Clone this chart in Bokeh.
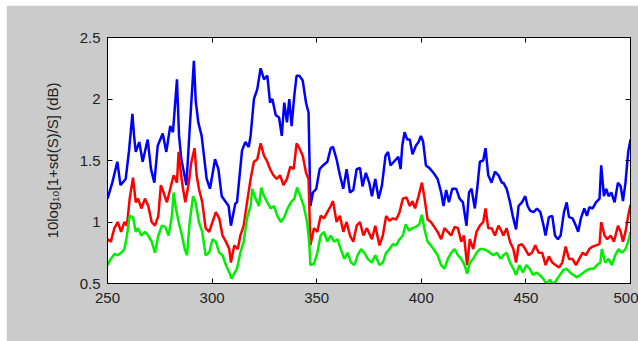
from bokeh.plotting import figure
from bokeh.models import LinearAxis, FixedTicker, NumeralTickFormatter, Range1d
from bokeh.embed import file_html
from bokeh.resources import INLINE

# ---- data ----
blue_x = [250.0, 252.3, 254.7, 256.2, 258.7, 260.3, 261.9, 262.7, 263.5, 265.2, 266.8, 269.2, 270.8, 272.4,
          274.0, 276.4, 278.1, 280.0, 281.3, 283.2, 284.2, 285.3, 287.7, 289.3, 291.3, 292.2, 293.4, 295.0,
          297.4, 299.0, 301.4, 303.0, 304.6, 307.9, 309.0, 311.1, 311.9, 314.3, 315.9, 317.5, 318.4, 320.0,
          321.6, 323.2, 324.8, 326.4, 327.7, 328.8, 330.4, 332.0, 333.3, 334.5, 335.8, 336.9, 338.0, 339.3,
          340.4, 341.7, 343.3, 344.9, 346.1, 347.0, 348.2, 349.8, 351.4, 353.0, 355.1, 356.7, 357.8, 359.5,
          361.1, 362.7, 364.3, 365.9, 367.5, 369.1, 370.7, 371.9, 373.5, 375.1, 376.4, 378.0, 379.6, 381.2,
          382.9, 384.1, 385.3, 386.9, 389.0, 390.1, 390.9, 392.0, 393.3, 394.5, 395.8, 397.4, 398.7, 399.8,
          400.9, 402.2, 403.8, 405.8, 407.8, 409.5, 410.6, 411.9, 413.2, 414.8, 416.7, 418.3, 419.9, 421.6,
          422.8, 424.0, 425.6, 426.7, 428.0, 429.6, 430.7, 432.0, 433.6, 435.2, 436.9, 438.5, 439.2, 440.8,
          442.4, 443.7, 445.3, 446.5, 448.1, 449.7, 450.8, 452.1, 453.7, 455.3, 456.9, 458.2, 459.4, 461.0,
          462.6, 463.9, 465.3, 466.6, 468.2, 469.5, 470.6, 472.3, 473.9, 475.0, 476.3, 477.9, 479.2, 480.3,
          481.9, 483.5, 485.2, 486.0, 487.3, 488.4, 489.5, 490.8, 492.4, 494.0, 495.3, 496.4, 497.6, 498.9,
          500.0]
blue_y = [1.19, 1.32, 1.49, 1.30, 1.35, 1.58, 1.88, 1.70, 1.57, 1.65, 1.49, 1.67, 1.43, 1.32,
          1.62, 1.72, 1.57, 1.78, 1.73, 2.16, 1.70, 1.51, 1.30, 1.76, 2.31, 1.98, 1.81, 1.70,
          1.35, 1.27, 1.51, 1.43, 1.21, 1.13, 0.97, 1.15, 1.16, 1.58, 1.65, 1.61, 1.70, 2.00,
          2.08, 2.25, 2.16, 2.19, 1.97, 2.00, 1.87, 1.85, 1.70, 1.97, 1.81, 2.00, 1.78, 2.03,
          2.19, 2.19, 2.15, 1.97, 1.89, 1.13, 1.24, 1.27, 1.43, 1.46, 1.49, 1.60, 1.61, 1.51,
          1.38, 1.27, 1.43, 1.24, 1.26, 1.43, 1.44, 1.29, 1.40, 1.32, 1.21, 1.35, 1.19, 1.30,
          1.54, 1.57, 1.46, 1.49, 1.53, 1.43, 1.62, 1.73, 1.67, 1.67, 1.55, 1.62, 1.65, 1.70,
          1.65, 1.46, 1.44, 1.40, 1.35, 1.24, 1.13, 1.26, 1.16, 1.27, 1.27, 1.19, 1.16, 0.97,
          1.24, 1.27, 1.11, 1.27, 1.49, 1.50, 1.60, 1.38, 1.32, 1.41, 1.38, 1.32, 1.32, 1.27,
          1.16, 1.05, 0.94, 1.13, 1.16, 1.21, 1.13, 1.09, 1.08, 1.11, 1.08, 0.99, 0.89, 1.04,
          1.05, 0.89, 0.86, 0.89, 1.08, 1.16, 1.04, 1.03, 0.97, 0.92, 1.03, 1.11, 1.05, 1.12,
          1.11, 1.16, 1.19, 1.46, 1.21, 1.27, 1.21, 1.24, 1.16, 1.32, 1.29, 1.17, 1.32, 1.57,
          1.67]

red_x = [250.0, 251.6, 253.3, 254.9, 256.5, 258.1, 259.3, 260.6, 262.2, 263.5, 264.6, 266.2, 267.9, 269.5,
         271.1, 272.7, 274.3, 275.5, 276.8, 278.4, 280.0, 281.6, 283.2, 284.0, 285.2, 286.1, 287.2, 288.9,
         290.0, 291.6, 292.6, 293.7, 295.3, 296.9, 298.6, 300.2, 301.8, 303.4, 305.0, 306.6, 308.2, 309.0,
         310.6, 312.3, 313.5, 315.1, 316.7, 318.4, 320.0, 321.6, 323.2, 324.8, 326.4, 327.7, 329.3, 330.9,
         332.5, 334.1, 335.8, 337.4, 339.0, 340.4, 341.7, 343.3, 344.9, 346.1, 347.0, 348.7, 350.3, 351.9,
         353.5, 355.1, 356.7, 357.8, 359.5, 361.1, 362.7, 364.3, 365.9, 367.5, 369.1, 370.7, 372.3, 374.0,
         376.4, 378.0, 380.0, 381.6, 383.2, 384.8, 386.4, 388.0, 389.6, 391.2, 392.9, 394.5, 395.8, 397.0,
         398.7, 400.3, 401.4, 403.0, 404.6, 406.2, 407.8, 409.5, 411.1, 412.7, 414.3, 415.9, 417.5, 419.1,
         420.4, 421.9, 423.2, 424.8, 426.4, 428.0, 429.6, 430.7, 432.0, 433.6, 435.2, 436.9, 438.5, 439.2,
         440.8, 442.4, 444.0, 445.3, 446.5, 448.1, 449.7, 451.3, 452.9, 454.5, 456.1, 457.8, 459.4, 461.0,
         462.6, 464.2, 465.8, 467.4, 469.0, 470.6, 472.3, 473.9, 475.5, 477.1, 478.7, 480.3, 481.9, 483.5,
         485.2, 486.0, 487.6, 488.9, 490.5, 492.1, 494.0, 495.3, 496.4, 497.6, 498.9, 500.0]
red_y = [0.86, 0.84, 0.95, 1.00, 0.92, 1.00, 0.97, 1.19, 1.36, 1.16, 1.19, 1.11, 1.19, 1.13,
         1.00, 0.97, 1.05, 1.30, 1.24, 1.16, 1.27, 1.38, 1.32, 1.57, 1.38, 1.27, 1.16, 1.32,
         1.48, 1.60, 1.38, 1.27, 1.16, 0.95, 0.92, 1.00, 1.08, 1.03, 0.89, 0.84, 0.78, 0.67,
         0.81, 0.78, 0.89, 0.97, 1.16, 1.35, 1.49, 1.51, 1.64, 1.54, 1.49, 1.43, 1.38, 1.35,
         1.38, 1.30, 1.35, 1.45, 1.43, 1.64, 1.60, 1.54, 1.40, 1.35, 0.81, 0.95, 0.92, 1.05,
         1.03, 1.08, 1.13, 1.17, 1.00, 1.05, 0.92, 1.00, 0.89, 0.84, 0.97, 1.00, 0.89, 0.95,
         0.86, 0.97, 0.81, 0.89, 1.05, 1.01, 1.03, 1.02, 1.08, 1.19, 1.20, 1.13, 1.17, 1.11,
         1.21, 1.32, 1.21, 1.02, 1.00, 0.96, 0.92, 0.86, 0.95, 0.92, 0.89, 0.96, 0.95, 0.84,
         0.89, 0.65, 0.86, 0.78, 0.92, 0.97, 1.00, 1.11, 0.95, 0.95, 0.89, 0.97, 0.92, 0.89,
         0.95, 0.84, 0.78, 0.67, 0.81, 0.82, 0.78, 0.73, 0.75, 0.81, 0.75, 0.75, 0.65, 0.72,
         0.67, 0.65, 0.63, 0.67, 0.80, 0.70, 0.70, 0.65, 0.70, 0.75, 0.73, 0.78, 0.80, 0.81,
         0.82, 1.00, 0.89, 0.86, 0.89, 0.84, 0.97, 0.92, 0.84, 0.92, 1.05, 1.14]

green_x = [250.0, 251.6, 253.3, 254.9, 256.5, 258.1, 259.3, 260.6, 262.2, 263.5, 264.6, 266.2, 267.9, 269.5,
           271.1, 272.7, 274.3, 276.0, 277.6, 279.2, 280.8, 281.6, 282.7, 284.0, 285.6, 286.9, 288.0, 289.3,
           290.9, 292.1, 293.7, 295.3, 296.9, 298.6, 300.2, 301.8, 303.4, 305.0, 306.6, 308.2, 309.3, 310.9,
           311.9, 313.5, 315.1, 316.7, 318.4, 319.2, 320.8, 322.4, 323.5, 324.8, 326.4, 328.0, 329.6, 331.2,
           332.9, 334.5, 336.1, 337.7, 339.3, 340.6, 342.2, 343.8, 345.4, 346.4, 347.0, 348.7, 350.3, 351.9,
           353.5, 355.1, 356.7, 358.3, 359.9, 361.5, 363.2, 364.8, 366.4, 368.0, 369.6, 371.2, 372.8, 374.4,
           376.4, 378.0, 380.0, 381.6, 383.2, 384.8, 386.4, 388.0, 389.6, 391.2, 392.5, 394.1, 395.8, 397.4,
           399.0, 400.3, 401.4, 403.0, 404.6, 406.2, 407.8, 409.5, 411.1, 412.7, 414.3, 415.9, 417.5, 419.1,
           420.7, 421.9, 423.2, 424.8, 426.4, 428.0, 429.6, 431.2, 432.8, 434.4, 436.1, 438.0, 439.2, 440.8,
           442.4, 444.0, 445.3, 446.9, 448.6, 450.2, 451.8, 453.4, 455.0, 456.6, 458.2, 459.8, 461.5, 463.1,
           464.7, 466.3, 467.9, 469.5, 471.1, 472.7, 474.4, 476.0, 477.6, 479.2, 480.8, 482.4, 484.0, 485.6,
           486.3, 487.9, 489.5, 491.1, 492.7, 494.3, 495.9, 497.6, 498.9, 500.0]
green_y = [0.65, 0.70, 0.74, 0.73, 0.75, 0.78, 0.89, 1.05, 1.04, 0.92, 0.95, 0.89, 0.92, 0.89,
           0.84, 0.75, 0.89, 0.97, 0.96, 0.89, 1.05, 1.24, 1.11, 1.00, 0.89, 0.78, 0.73, 1.00,
           1.21, 1.16, 1.00, 0.92, 0.73, 0.75, 0.86, 0.84, 0.75, 0.73, 0.65, 0.59, 0.54, 0.59,
           0.62, 0.75, 0.84, 1.03, 1.13, 1.27, 1.19, 1.13, 1.28, 1.21, 1.16, 1.11, 1.13, 1.05,
           1.00, 1.04, 1.11, 1.16, 1.19, 1.28, 1.21, 1.13, 1.00, 0.84, 0.65, 0.66, 0.75, 0.89,
           0.92, 0.84, 0.89, 0.84, 0.86, 0.78, 0.70, 0.75, 0.67, 0.65, 0.73, 0.78, 0.75, 0.70,
           0.67, 0.73, 0.65, 0.67, 0.75, 0.78, 0.82, 0.81, 0.86, 0.89, 0.98, 0.93, 0.95, 0.96,
           0.98, 1.06, 0.95, 0.84, 0.81, 0.77, 0.73, 0.65, 0.62, 0.70, 0.75, 0.78, 0.73, 0.70,
           0.65, 0.58, 0.67, 0.70, 0.75, 0.78, 0.78, 0.77, 0.75, 0.73, 0.75, 0.70, 0.73, 0.75,
           0.67, 0.62, 0.57, 0.65, 0.59, 0.65, 0.62, 0.57, 0.59, 0.57, 0.54, 0.50, 0.53, 0.49,
           0.53, 0.57, 0.61, 0.62, 0.59, 0.57, 0.55, 0.57, 0.59, 0.61, 0.62, 0.62, 0.65, 0.67,
           0.78, 0.67, 0.70, 0.65, 0.73, 0.78, 0.75, 0.78, 0.84, 0.92]

x_ticks = [250, 300, 350, 400, 450, 500]
y_ticks = [0.5, 1.0, 1.5, 2.0, 2.5]
y_label = "10log\u2081\u2080[1+sd(S)/S] (dB)"

FONT = "Liberation Sans"
GRAY = "#cbcbcb"

# figure placed 6px from the left and 5px from the top, frame at x 107..624, y 37..283
p = figure(width=632, height=336, output_backend="svg", toolbar_location=None,
           x_range=Range1d(250, 500), y_range=Range1d(0.5, 2.5),
           min_border_left=101, min_border_right=8, min_border_top=32, min_border_bottom=58)
p.margin = (5, 0, 0, 6)
p.border_fill_color = GRAY
p.background_fill_color = "white"
p.outline_line_color = "black"
p.outline_line_width = 1
p.xgrid.visible = False
p.ygrid.visible = False

def style(ax, ticks, labels=True):
    ax.ticker = FixedTicker(ticks=ticks)
    ax.major_tick_in = 5
    ax.major_tick_out = 0
    ax.minor_tick_line_color = None
    ax.axis_line_color = "black"
    ax.major_tick_line_color = "black"
    ax.major_label_text_font = FONT
    ax.major_label_text_font_size = "15px"
    ax.major_label_text_color = "#222222" if labels else None

style(p.xaxis[0], x_ticks)
style(p.yaxis[0], y_ticks)
p.xaxis[0].major_label_standoff = 9
p.yaxis[0].major_label_standoff = 7
p.yaxis[0].formatter = NumeralTickFormatter(format="0.[0]")
p.yaxis[0].axis_label = y_label
p.yaxis[0].axis_label_text_font = FONT
p.yaxis[0].axis_label_text_font_size = "15px"
p.yaxis[0].axis_label_text_font_style = "normal"
p.yaxis[0].axis_label_text_color = "#222222"
p.yaxis[0].axis_label_standoff = 16

top = LinearAxis()
style(top, x_ticks, labels=False)
top.major_label_text_font_size = "0px"
p.add_layout(top, "above")
right = LinearAxis()
style(right, y_ticks, labels=False)
right.major_label_text_font_size = "0px"
p.add_layout(right, "right")

p.line(blue_x, blue_y, line_color="#0000ff", line_width=2.5)
p.line(red_x, red_y, line_color="#ff0000", line_width=2.5)
p.line(green_x, green_y, line_color="#00ee00", line_width=2.5)

open("out.html", "w").write(file_html(p, INLINE))
